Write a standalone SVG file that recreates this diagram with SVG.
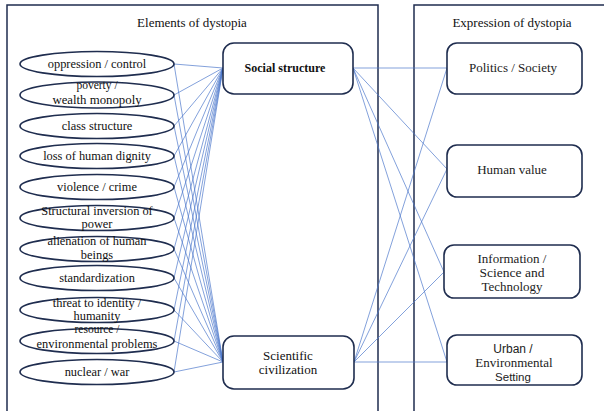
<svg xmlns="http://www.w3.org/2000/svg" width="604" height="411" viewBox="0 0 604 411">
<style>
.panel{fill:none;stroke:#1f2d4f;stroke-width:1.5}
.el{fill:#fff;stroke:#1f2d4f;stroke-width:1.6}
.box{fill:#fff;stroke:#1f2d4f;stroke-width:1.6}
.t{font-family:"Liberation Serif","Times New Roman",serif;font-size:12.4px;fill:#111;text-anchor:middle}
.r{font-family:"Liberation Serif","Times New Roman",serif;font-size:13px;fill:#222;text-anchor:middle}
.s{font-family:"Liberation Sans",Arial,sans-serif;font-size:12px;fill:#222;text-anchor:middle}
.h{font-family:"Liberation Serif","Times New Roman",serif;font-size:13px;fill:#111;text-anchor:middle}
.c line{stroke:#4d78cc;stroke-width:0.7}
</style>
<rect width="604" height="411" fill="#fff"/>
<g id="panel-left"><path class="panel" d="M7,415 V5 H378 V415"/><text class="h" x="192" y="27">Elements of dystopia</text></g>
<g id="panel-right"><path class="panel" d="M414,415 V5 H606"/><text class="h" x="512" y="27">Expression of dystopia</text></g>
<g class="c" id="connectors">
<line x1="174" y1="64" x2="223" y2="68"/><line x1="174" y1="64" x2="223" y2="362"/>
<line x1="174" y1="95" x2="223" y2="68"/><line x1="174" y1="95" x2="223" y2="362"/>
<line x1="174" y1="126" x2="223" y2="68"/><line x1="174" y1="126" x2="223" y2="362"/>
<line x1="174" y1="156" x2="223" y2="68"/><line x1="174" y1="156" x2="223" y2="362"/>
<line x1="174" y1="187" x2="223" y2="68"/><line x1="174" y1="187" x2="223" y2="362"/>
<line x1="174" y1="218" x2="223" y2="68"/><line x1="174" y1="218" x2="223" y2="362"/>
<line x1="174" y1="249" x2="223" y2="68"/><line x1="174" y1="249" x2="223" y2="362"/>
<line x1="174" y1="278" x2="223" y2="68"/><line x1="174" y1="278" x2="223" y2="362"/>
<line x1="174" y1="310" x2="223" y2="68"/><line x1="174" y1="310" x2="223" y2="362"/>
<line x1="174" y1="341" x2="223" y2="68"/><line x1="174" y1="341" x2="223" y2="362"/>
<line x1="174" y1="372" x2="223" y2="68"/><line x1="174" y1="372" x2="223" y2="362"/>
<line x1="353" y1="68" x2="447" y2="68"/><line x1="353" y1="68" x2="447" y2="169"/>
<line x1="353" y1="68" x2="444" y2="272"/><line x1="353" y1="68" x2="447" y2="362"/>
<line x1="354" y1="362" x2="447" y2="68"/><line x1="354" y1="362" x2="447" y2="169"/>
<line x1="354" y1="362" x2="444" y2="272"/><line x1="354" y1="362" x2="447" y2="362"/>
</g>
<g id="n-oppression"><ellipse class="el" cx="97" cy="64" rx="77" ry="12.5"/><text class="t" x="97" y="68">oppression / control</text></g>
<g id="n-poverty"><ellipse class="el" cx="97" cy="95" rx="77" ry="13"/><text class="t" x="97" y="89" style="font-size:11.5px">poverty /</text><text class="t" x="97" y="103.5" style="font-size:12.8px">wealth monopoly</text></g>
<g id="n-class"><ellipse class="el" cx="97" cy="126" rx="77" ry="12.5"/><text class="t" x="97" y="130">class structure</text></g>
<g id="n-dignity"><ellipse class="el" cx="97" cy="156" rx="77" ry="12.5"/><text class="t" x="97" y="160">loss of human dignity</text></g>
<g id="n-violence"><ellipse class="el" cx="97" cy="187" rx="77" ry="12.5"/><text class="t" x="97" y="191">violence / crime</text></g>
<g id="n-inversion"><ellipse class="el" cx="97" cy="218" rx="77" ry="12.5"/><text class="t" x="97" y="215">Structural inversion of</text><text class="t" x="97" y="228">power</text></g>
<g id="n-alienation"><ellipse class="el" cx="97" cy="249" rx="77" ry="12.5"/><text class="t" x="97" y="245">alienation of human</text><text class="t" x="97" y="259">beings</text></g>
<g id="n-standardization"><ellipse class="el" cx="97" cy="278" rx="77" ry="12.5"/><text class="t" x="97" y="282">standardization</text></g>
<g id="n-threat"><ellipse class="el" cx="97" cy="310" rx="77" ry="12.5"/><text class="t" x="97" y="307">threat to identity /</text><text class="t" x="97" y="320">humanity</text></g>
<g id="n-resource"><ellipse class="el" cx="97" cy="341" rx="77" ry="12.5"/><text class="t" x="97" y="333" style="font-size:11.5px">resource /</text><text class="t" x="97" y="347.5">environmental problems</text></g>
<g id="n-nuclear"><ellipse class="el" cx="97" cy="372" rx="77" ry="12.5"/><text class="t" x="97" y="376">nuclear / war</text></g>
<g id="n-social"><rect class="box" x="223" y="43" width="130" height="51" rx="11"/><text class="t" x="285" y="72" style="font-size:12px;font-weight:bold">Social structure</text></g>
<g id="n-scientific"><rect class="box" x="223" y="336" width="131" height="53" rx="11"/><text class="r" x="288" y="360" style="fill:#111">Scientific</text><text class="r" x="288" y="374" style="fill:#111">civilization</text></g>
<g id="n-politics"><rect class="box" x="447" y="43" width="135" height="51" rx="10"/><text class="r" x="513" y="72">Politics / Society</text></g>
<g id="n-human"><rect class="box" x="447" y="145" width="135" height="52" rx="10"/><text class="r" x="512" y="174">Human value</text></g>
<g id="n-info"><rect class="box" x="444" y="245" width="136" height="53" rx="10"/><text class="r" x="512" y="263">Information /</text><text class="r" x="512" y="277" style="font-size:13.5px">Science and</text><text class="r" x="512" y="291">Technology</text></g>
<g id="n-urban"><rect class="box" x="447" y="335" width="135" height="50" rx="10"/><text class="s" x="513" y="353">Urban /</text><text class="r" x="514" y="367">Environmental</text><text class="s" x="513" y="381" style="font-size:11.5px">Setting</text></g>
</svg>
